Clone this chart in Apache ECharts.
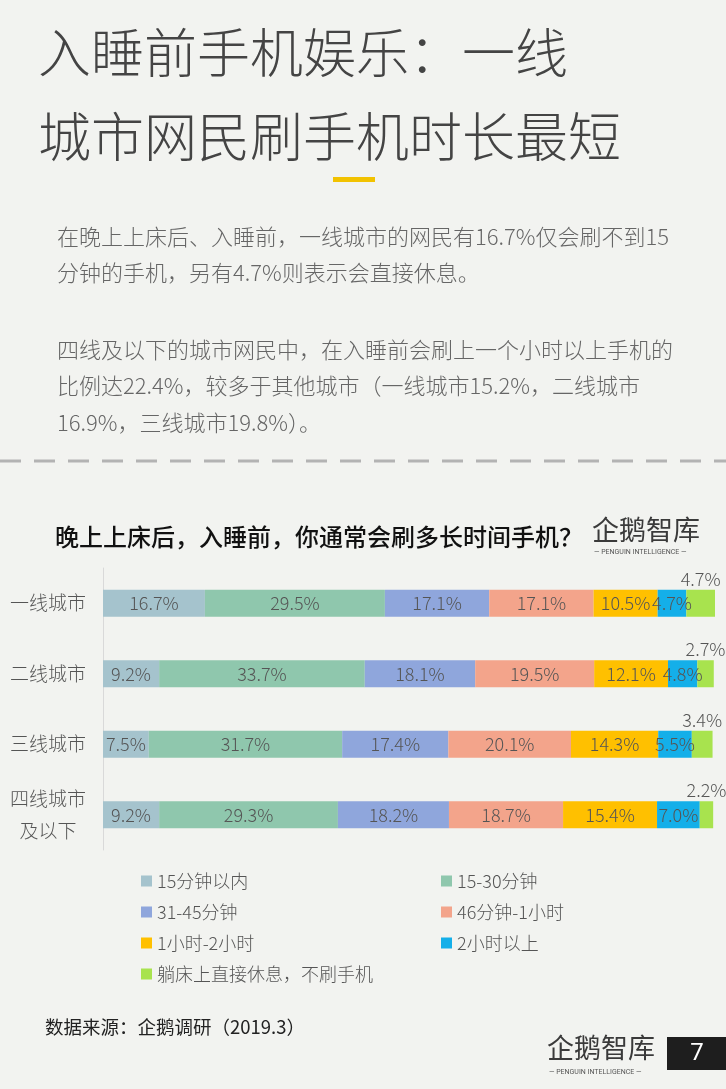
<!DOCTYPE html>
<html>
<head>
<meta charset="utf-8">
<title>入睡前手机娱乐</title>
<script src="https://cdn.jsdelivr.net/npm/echarts@6/dist/echarts.min.js"></script>
<style>
	html,body{margin:0;padding:0;background:#f2f3f0;}
	#main{width:726px;height:1089px;}
</style>
</head>
<body>
<div id="main"></div>
<script>
// 城市分类
var cityList=['一线城市','二线城市','三线城市','四线城市\n及以下'];
// 各时长占比(%)
var nameList=['15分钟以内','15-30分钟','31-45分钟','46分钟-1小时','1小时-2小时','2小时以上','躺床上直接休息，不刷手机'];
var min15=[16.7, 9.2, 7.5, 9.2];
var min30=[29.5, 33.7, 31.7, 29.3];
var min45=[17.1, 18.1, 17.4, 18.2];
var hour1=[17.1, 19.5, 20.1, 18.7];
var hour2=[10.5, 12.1, 14.3, 15.4];
var hourMore=[4.7, 4.8, 5.5, 7.0];
var noPhone=[4.7, 2.7, 3.4, 2.2];

var defColor=['#a5c3cd','#8fc7ad','#8fa6dc','#f3a48b','#ffc000','#14afe9','#a8e34e'];
var cjk='"Noto Sans CJK SC", "Microsoft YaHei", sans-serif';

var chart=echarts.init(document.getElementById('main'));

function makeSeries(idx,data){
	return {
		name: nameList[idx],
		type: 'bar',
		stack: 'total',
		barWidth: 27,
		data: data,
		itemStyle: {color: defColor[idx]},
		label: {
			show: true,
			position: idx==6 ? 'top' : 'inside', //最后一段标签放在上方
			distance: 2,
			color: '#555',
			fontSize: 18,
			fontFamily: cjk,
			fontWeight: 300,
			formatter: function(p){ return p.value.toFixed(1)+'%'; }
		}
	};
}

// 文字块
function txt(str,x,y,size,color,extra){
	var st={text:str,x:x,y:y,fill:color,fontSize:size,fontFamily:cjk,verticalAlign:'middle'};
	if(extra){ for(var k in extra) st[k]=extra[k]; }
	return {type:'text',z:10,style:st};
}

var option={
	backgroundColor: '#f2f3f0',
	animation: false,
	color: defColor,
	grid: {left: 103, top: 568, width: 612, bottom: 239},
	xAxis: {type: 'value', min: 0, max: 100.3, show: false},
	yAxis: {
		type: 'category',
		inverse: true,
		data: cityList,
		axisLine: {show: true, lineStyle: {color: '#d9d9d9', width: 1}},
		axisTick: {show: false},
		axisLabel: {color: '#555', fontSize: 19, fontFamily: cjk, fontWeight: 300, margin: 55, lineHeight: 32, align: 'center'}
	},
	legend: [{
		data: [nameList[0],nameList[2],nameList[4],nameList[6]],
		orient: 'vertical', left: 136, top: 867,
		itemWidth: 11, itemHeight: 11, itemGap: 13, icon: 'rect',
		textStyle: {color: '#555', fontSize: 18, fontFamily: cjk, fontWeight: 300}
	},{
		data: [nameList[1],nameList[3],nameList[5]],
		orient: 'vertical', left: 436, top: 867,
		itemWidth: 11, itemHeight: 11, itemGap: 13, icon: 'rect',
		textStyle: {color: '#555', fontSize: 18, fontFamily: cjk, fontWeight: 300}
	}],
	series: [
		makeSeries(0,min15), makeSeries(1,min30), makeSeries(2,min45), makeSeries(3,hour1),
		makeSeries(4,hour2), makeSeries(5,hourMore), makeSeries(6,noPhone)
	],
	graphic: [
		txt('入睡前手机娱乐：一线',38,53,53,'#444',{fontWeight:300}),
		txt('城市网民刷手机时长最短',38,137,53,'#444',{fontWeight:300}),
		{type:'rect',shape:{x:333,y:177,width:42,height:5},style:{fill:'#f2c200'}},
		txt('在晚上上床后、入睡前，一线城市的网民有16.7%仅会刷不到15',57,237,22,'#666',{fontWeight:300}),
		txt('分钟的手机，另有4.7%则表示会直接休息。',57,273,22,'#666',{fontWeight:300}),
		txt('四线及以下的城市网民中，在入睡前会刷上一个小时以上手机的',57,350,22,'#666',{fontWeight:300}),
		txt('比例达22.4%，较多于其他城市（一线城市15.2%，二线城市',57,386,22,'#666',{fontWeight:300}),
		txt('16.9%，三线城市19.8%）。',57,423,22,'#666',{fontWeight:300}),
		{type:'line',shape:{x1:0,y1:461,x2:726,y2:461},style:{stroke:'#b3b3b3',lineWidth:3,lineDash:[21,13]}},
		txt('晚上上床后，入睡前，你通常会刷多长时间手机？',55,537,24,'#111',{fontWeight:500}),
		// 右上角logo
		txt('企鹅智库',592,530,27,'#3a3a3a'),
		txt('— PENGUIN INTELLIGENCE —',594,552,7,'#555',{fontFamily:'Roboto, sans-serif'}),
		txt('数据来源：企鹅调研（2019.3）',45,1027,18.5,'#222'),
		// 底部logo
		txt('企鹅智库',547,1048,27,'#3a3a3a'),
		txt('— PENGUIN INTELLIGENCE —',549,1072,7,'#555',{fontFamily:'Roboto, sans-serif'}),
		{type:'rect',shape:{x:667,y:1037,width:59,height:33},style:{fill:'#1e1e1e'}},
		txt('7',697,1054,24,'#fff',{align:'center',fontFamily:'Roboto, sans-serif'})
	]
};
chart.setOption(option);
</script>
</body>
</html>
